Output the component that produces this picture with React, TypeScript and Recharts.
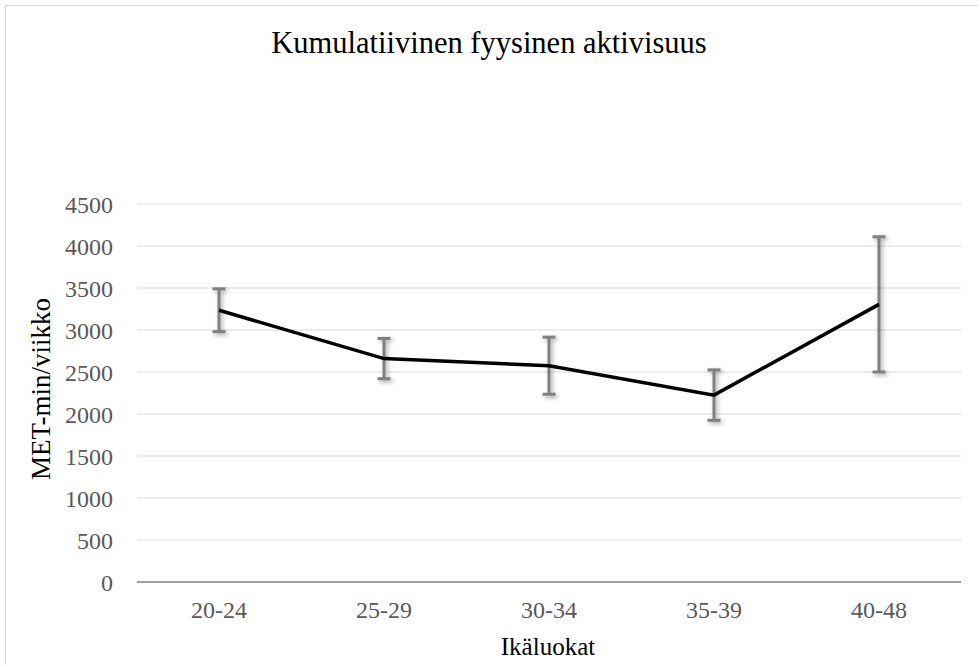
import React from "react";
import {
  ComposedChart,
  Line,
  ErrorBar,
  XAxis,
  YAxis,
  CartesianGrid,
} from "recharts";

const ageGroups = ["20-24", "25-29", "30-34", "35-39", "40-48"];
const metMinutes = [3235, 2660, 2575, 2225, 3305];
const errors = [255, 240, 340, 300, 805];
const yTicks = [0, 500, 1000, 1500, 2000, 2500, 3000, 3500, 4000, 4500];

const data = ageGroups.map((g, i) => ({
  group: g,
  value: metMinutes[i],
  err: errors[i],
}));

const serif = '"Liberation Serif", "Times New Roman", serif';

export default function App() {
  return (
    <div
      style={{
        position: "absolute",
        left: 5,
        top: 5,
        width: 985,
        height: 670,
        border: "1px solid #d9d9d9",
        boxSizing: "border-box",
        background: "#fff",
        fontFamily: serif,
      }}
    >
      <style>{`.recharts-errorBars { filter: drop-shadow(2px 2px 2px rgba(0,0,0,0.35)); }`}</style>

      {/* title */}
      <div
        style={{
          position: "absolute",
          left: 0,
          width: 966,
          top: 20,
          textAlign: "center",
          fontSize: 30.5,
          color: "#000",
        }}
      >
        Kumulatiivinen fyysinen aktivisuus
      </div>

      {/* y axis title */}
      <div
        style={{
          position: "absolute",
          left: 35,
          top: 383,
          fontSize: 27,
          color: "#000",
          whiteSpace: "nowrap",
          transform: "translate(-50%, -50%) rotate(-90deg)",
        }}
      >
        MET-min/viikko
      </div>

      {/* x axis title */}
      <div
        style={{
          position: "absolute",
          left: 542,
          top: 641,
          fontSize: 25,
          color: "#000",
          whiteSpace: "nowrap",
          transform: "translate(-50%, -50%)",
        }}
      >
        Ikäluokat
      </div>

      <ComposedChart
        width={972}
        height={665}
        data={data}
        margin={{ top: 198, right: 17, left: 0, bottom: 29 }}
      >
        <CartesianGrid vertical={false} stroke="#d9d9d9" strokeWidth={1} />
        <XAxis
          dataKey="group"
          padding={{ left: 82, right: 82 }}
          axisLine={{ stroke: "#898989", strokeWidth: 1.5 }}
          tickLine={false}
          tickSize={0}
          tickMargin={19}
          height={60}
          tick={{ fill: "#595959", fontSize: 24, fontFamily: serif }}
        />
        <YAxis
          domain={[0, 4500]}
          ticks={yTicks}
          axisLine={false}
          tickLine={false}
          tickSize={0}
          tickMargin={24}
          width={131}
          tick={{ fill: "#595959", fontSize: 24, fontFamily: serif }}
        />
        <Line
          type="linear"
          dataKey="value"
          stroke="#000"
          strokeWidth={3.5}
          dot={false}
          activeDot={false}
          isAnimationActive={false}
        >
          <ErrorBar
            dataKey="err"
            direction="y"
            width={6.5}
            stroke="#808080"
            strokeWidth={3}
            isAnimationActive={false}
          />
        </Line>
      </ComposedChart>
    </div>
  );
}
